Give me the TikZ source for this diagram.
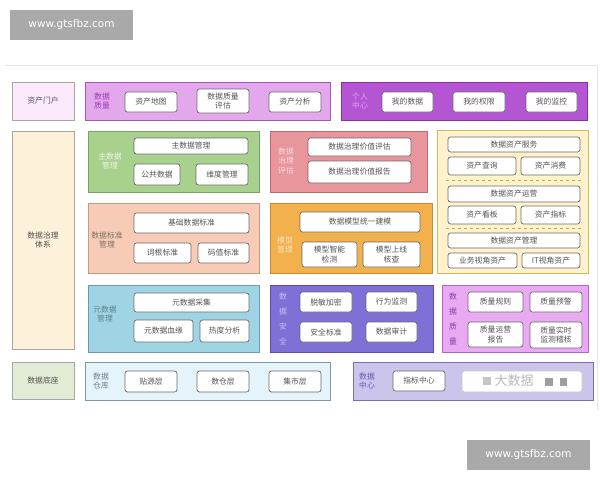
\documentclass[tikz,border=0pt]{standalone}
\usepackage{fontspec}
\setmainfont{Noto Sans CJK SC}
\newfontfamily\wmfont{DejaVu Sans}
\definecolor{ibd}{HTML}{6A6A6A}
\definecolor{txt}{HTML}{555555}
\definecolor{portalF}{HTML}{F9E9F9}
\definecolor{dqtF}{HTML}{E3A7EC}\definecolor{dqtD}{HTML}{A855BC}\definecolor{dqtT}{HTML}{9B3DB0}
\definecolor{pcF}{HTML}{B455D4}\definecolor{pcD}{HTML}{8B2FA8}\definecolor{pcT}{HTML}{DDA2EE}
\definecolor{creamF}{HTML}{FDF1DA}
\definecolor{grF}{HTML}{A9D18E}\definecolor{grD}{HTML}{7DA35D}\definecolor{grT}{HTML}{EEF5E4}
\definecolor{rdF}{HTML}{E8959C}\definecolor{rdD}{HTML}{C06A72}\definecolor{rdT}{HTML}{F8DCDF}
\definecolor{ylF}{HTML}{FFF2CC}\definecolor{ylD}{HTML}{D9B65A}\definecolor{ylDash}{HTML}{C9A64A}
\definecolor{saF}{HTML}{F8CBB6}\definecolor{saD}{HTML}{C49A88}\definecolor{saT}{HTML}{7E706B}
\definecolor{orF}{HTML}{F2B14C}\definecolor{orD}{HTML}{C98A2B}\definecolor{orT}{HTML}{FBE6C0}
\definecolor{blF}{HTML}{9ED4E3}\definecolor{blD}{HTML}{6A9DB0}\definecolor{blT}{HTML}{62808C}
\definecolor{slF}{HTML}{7E70D6}\definecolor{slD}{HTML}{5A4DB0}\definecolor{slT}{HTML}{C8C1F2}
\definecolor{viF}{HTML}{E9A9F3}\definecolor{viD}{HTML}{B466C4}\definecolor{viT}{HTML}{8D3AA8}
\definecolor{baseF}{HTML}{E2EBD3}
\definecolor{whF}{HTML}{E5F3FA}\definecolor{whD}{HTML}{7E98A8}\definecolor{whT}{HTML}{6F7F8C}
\definecolor{dcF}{HTML}{CBC5EC}\definecolor{dcD}{HTML}{7C6EB6}\definecolor{dcT}{HTML}{6A5AB0}
\definecolor{wmF}{HTML}{A9A9A9}
\newcommand\fs{\fontsize{7.8}{9.5}\selectfont}
\newcommand\fsv{\fontsize{7.8}{15}\selectfont}
\newcommand\bx[7]{\node[#1,minimum width={(#5-#3)*1pt},minimum height={(#6-#4)*1pt}] (#2) at ({(#3+#5)/2},{-(#4+#6)/2}) {#7};}
\begin{document}
\begin{tikzpicture}[x=1pt,y=1pt,
  ib/.style={draw=ibd,line width=0.7pt,fill=white,rounded corners=2.5pt,inner sep=0pt,outer sep=0pt,align=center,text=txt,font=\fs},
  grp/.style={line width=0.9pt,inner sep=0pt,outer sep=0pt,align=center,font=\fs},
  lbl/.style={align=center,font=\fs,inner sep=0pt},
  vlbl/.style={align=center,font=\fsv,inner sep=0pt},
  wm/.style={fill=wmF,text=white,inner sep=0pt,font=\wmfont\fontsize{10.5}{12}\selectfont}]
\useasboundingbox (0,0) rectangle (600,-480);
\fill[white] (0,0) rectangle (600,-480);
% faint frame
\draw[gray!20,line width=0.6pt] (5,-65) -- (597,-65) -- (597,-410);
% watermarks
\bx{wm}{wmA}{10}{10}{133}{40}{www.gtsfbz.com}
\bx{wm}{wmB}{467}{440}{590}{470}{www.gtsfbz.com}

% ---------- top row ----------
\bx{grp,draw=gray!70,fill=portalF,text=txt}{portal}{12}{82}{74}{120}{资产门户}
\bx{grp,draw=dqtD,fill=dqtF}{dqtop}{85}{82}{330}{120}{}
\node[lbl,text=dqtT] (dqtopL) at (102,-101) {数据\\质量};
\bx{ib}{zcdt}{125}{92}{177}{112}{资产地图}
\bx{ib}{sjzlpg}{197}{89}{249}{113}{数据质量\\评估}
\bx{ib}{zcfx}{269}{92}{321}{112}{资产分析}
\bx{grp,draw=pcD,fill=pcF}{pcenter}{341}{82}{587}{120}{}
\node[lbl,text=pcT] (pcenterL) at (360,-101) {个人\\中心};
\bx{ib}{wdsj}{382}{92}{433}{112}{我的数据}
\bx{ib}{wdqx}{453}{92}{505}{112}{我的权限}
\bx{ib}{wdjk}{526}{92}{577}{112}{我的监控}

% ---------- left column ----------
\bx{grp,draw=gray!70,fill=creamF,text=txt}{tixi}{12}{131}{74}{349}{数据治理\\体系}

% ---------- 主数据管理 ----------
\bx{grp,draw=grD,fill=grF}{mdm}{88}{131}{259}{192}{}
\node[lbl,text=grT] (mdmL) at (110,-161) {主数据\\管理};
\bx{ib}{mdmA}{134}{138}{248}{154}{主数据管理}
\bx{ib}{mdmB}{134}{164}{180}{185}{公共数据}
\bx{ib}{mdmC}{196}{164}{248}{185}{维度管理}

% ---------- 数据治理评估 ----------
\bx{grp,draw=rdD,fill=rdF}{eval}{270}{131}{427}{192}{}
\node[lbl,text=rdT] (evalL) at (286,-161) {数据\\治理\\评估};
\bx{ib}{evalA}{308}{138}{411}{156}{数据治理价值评估}
\bx{ib}{evalB}{308}{161}{411}{183}{数据治理价值报告}

% ---------- 数据资产 (yellow) ----------
\bx{grp,draw=ylD,fill=ylF}{asset}{437}{130}{588}{273}{}
\bx{ib}{svc}{448}{137}{580}{152}{数据资产服务}
\bx{ib}{svcA}{448}{157}{516}{175}{资产查询}
\bx{ib}{svcB}{521}{157}{580}{175}{资产消费}
\coordinate (d1a) at (446,-180); \coordinate (d1b) at (582,-180);
\draw[ylDash,dashed,line width=0.9pt] (d1a) -- (d1b);
\bx{ib}{ops}{448}{186}{580}{202}{数据资产运营}
\bx{ib}{opsA}{448}{206}{516}{224}{资产看板}
\bx{ib}{opsB}{521}{206}{580}{224}{资产指标}
\coordinate (d2a) at (446,-228); \coordinate (d2b) at (582,-228);
\draw[ylDash,dashed,line width=0.9pt] (d2a) -- (d2b);
\bx{ib}{mgt}{448}{233}{580}{248}{数据资产管理}
\bx{ib}{mgtA}{448}{253}{517}{268}{业务视角资产}
\bx{ib}{mgtB}{522}{253}{580}{268}{IT视角资产}

% ---------- 数据标准管理 ----------
\bx{grp,draw=saD,fill=saF}{std}{88}{203}{259}{273}{}
\node[lbl,text=saT] (stdL) at (107,-240) {数据标准\\管理};
\bx{ib}{stdA}{134}{213}{249}{233}{基础数据标准}
\bx{ib}{stdB}{134}{243}{191}{263}{词根标准}
\bx{ib}{stdC}{198}{243}{249}{263}{码值标准}

% ---------- 模型管理 ----------
\bx{grp,draw=orD,fill=orF}{model}{270}{203}{432}{273}{}
\node[lbl,text=orT] (modelL) at (285,-245) {模型\\管理};
\bx{ib}{modelA}{300}{212}{420}{232}{数据模型统一建模}
\bx{ib}{modelB}{302}{242}{357}{267}{模型智能\\检测}
\bx{ib}{modelC}{363}{242}{420}{267}{模型上线\\核查}

% ---------- 元数据管理 ----------
\bx{grp,draw=blD,fill=blF}{meta}{88}{285}{259}{352}{}
\node[lbl,text=blT] (metaL) at (105,-314) {元数据\\管理};
\bx{ib}{metaA}{134}{293}{249}{312}{元数据采集}
\bx{ib}{metaB}{134}{320}{193}{342}{元数据血缘}
\bx{ib}{metaC}{200}{320}{249}{342}{热度分析}

% ---------- 数据安全 ----------
\bx{grp,draw=slD,fill=slF}{sec}{270}{285}{433}{352}{}
\node[vlbl,text=slT] (secL) at (283,-318.5) {数\\据\\安\\全};
\bx{ib}{secA}{300}{292}{352}{312}{脱敏加密}
\bx{ib}{secB}{366}{292}{417}{312}{行为监测}
\bx{ib}{secC}{300}{322}{352}{342}{安全标准}
\bx{ib}{secD}{366}{322}{417}{342}{数据审计}

% ---------- 数据质量 ----------
\bx{grp,draw=viD,fill=viF}{qual}{442}{285}{588}{352}{}
\node[vlbl,text=viT] (qualL) at (453,-318.5) {数\\据\\质\\量};
\bx{ib}{qualA}{468}{292}{523}{312}{质量规则}
\bx{ib}{qualB}{530}{292}{582}{312}{质量预警}
\bx{ib}{qualC}{468}{322}{523}{347}{质量运营\\报告}
\bx{ib}{qualD}{530}{322}{582}{348}{质量实时\\监测稽核}

% ---------- bottom row ----------
\bx{grp,draw=gray!70,fill=baseF,text=txt}{base}{12}{362}{74}{399}{数据底座}
\bx{grp,draw=whD,fill=whF}{wh}{85}{362}{330}{400}{}
\node[lbl,text=whT] (whL) at (101,-381) {数据\\仓库};
\bx{ib}{whA}{125}{371}{177}{392}{贴源层}
\bx{ib}{whB}{197}{371}{249}{392}{数仓层}
\bx{ib}{whC}{269}{371}{321}{392}{集市层}
\bx{grp,draw=dcD,fill=dcF}{dc}{353}{362}{593}{400}{}
\node[lbl,text=dcT] (dcL) at (367,-381) {数据\\中心};
\bx{ib}{dcA}{393}{371}{445}{391}{指标中心}
\bx{ib,draw=gray!45}{dcB}{462}{371}{582}{392}{}
\fill[gray!45] (483,-377) rectangle (491,-385);
\fill[gray!75] (545,-378) rectangle (553,-386);
\fill[gray!75] (560,-378) rectangle (567,-386);
\node[inner sep=0pt,text=gray!55,font=\fontsize{13}{14}\selectfont] (dcBt) at (514,-381) {大数据};
\end{tikzpicture}
\end{document}
